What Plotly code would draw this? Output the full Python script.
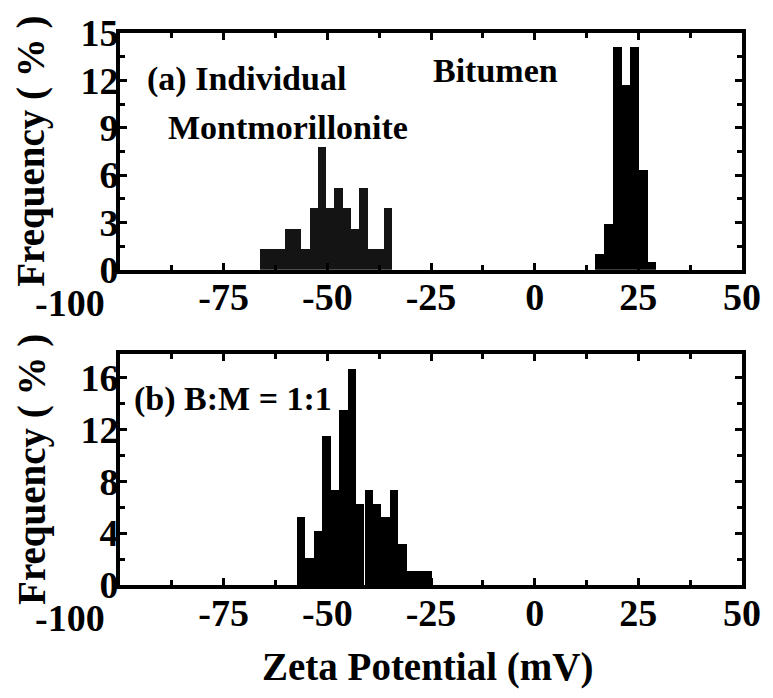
import plotly.graph_objects as go

# ---- data ----
mont_x = [-65.3, -63.3, -61.3, -59.3, -57.3, -55.3, -53.3, -51.3,
          -49.3, -47.3, -45.3, -43.3, -41.3, -39.3, -37.3, -35.3]
mont_y = [1.3, 1.3, 1.3, 2.6, 2.6, 1.3, 3.9, 7.8,
          3.9, 5.2, 3.9, 2.6, 5.2, 1.3, 1.3, 3.9]
mont_w = 2.0

bit_x = [15.7, 17.8, 19.9, 22.0, 24.1, 26.2, 28.3]
bit_y = [1.0, 2.9, 14.1, 11.7, 14.1, 6.3, 0.5]
bit_w = 2.1

mix_x = [-56.3, -54.3, -52.2, -50.2, -48.2, -46.1, -44.1, -42.1,
         -40.0, -38.0, -36.0, -33.9, -31.9, -29.9, -27.8, -25.8]
mix_y = [5.2, 2.08, 4.17, 11.46, 7.29, 13.5, 16.67, 6.25,
         7.29, 6.25, 5.2, 7.29, 3.13, 1.04, 1.04, 1.04]
mix_w = 2.03

x_ticks = [-75, -50, -25, 0, 25, 50]
x_ticktext = ["-75", "-50", "-25", "0", "25", "50"]
y1_ticks = [0, 3, 6, 9, 12, 15]
y2_ticks = [0, 4, 8, 12, 16]

FONT = "Liberation Serif"

fig = go.Figure()
fig.add_trace(go.Bar(x=mont_x, y=mont_y, width=mont_w, marker=dict(color="#141414", line=dict(width=0)),
                     xaxis="x", yaxis="y", showlegend=False))
fig.add_trace(go.Bar(x=bit_x, y=bit_y, width=bit_w, marker=dict(color="black", line=dict(width=0)),
                     xaxis="x", yaxis="y", showlegend=False))
fig.add_trace(go.Bar(x=mix_x, y=mix_y, width=mix_w, marker=dict(color="black", line=dict(width=0)),
                     xaxis="x2", yaxis="y2", showlegend=False))

tickfont = dict(family=FONT, size=38, color="black", weight="bold")
common_x = dict(range=[-100, 50], tickmode="array", tickvals=x_ticks, ticktext=x_ticktext,
                ticks="inside", ticklen=7, ticklabelstandoff=-9,
                tickwidth=3, tickcolor="black", showline=True, linewidth=4, linecolor="black",
                mirror="ticks", showgrid=False, zeroline=False, tickfont=tickfont,
                minor=dict(tickmode="linear", tick0=-100, dtick=12.5, ticks="inside", ticklen=5,
                           tickwidth=3, tickcolor="black"))
common_y = dict(ticks="inside", ticklen=7, tickwidth=3, tickcolor="black", showline=True,
                linewidth=4, linecolor="black", mirror="ticks", showgrid=False, zeroline=False,
                tickfont=tickfont, tickmode="array", ticklabelstandoff=-10)

fig.update_layout(
    width=773, height=698,
    margin=dict(l=120, r=22, t=29, b=113),
    paper_bgcolor="white", plot_bgcolor="white",
    bargap=0,
    xaxis=dict(common_x, domain=[0, 1], anchor="y"),
    yaxis=dict(common_y, range=[0, 15], tickvals=y1_ticks, domain=[0.571, 1], anchor="x",
               minor=dict(tickmode="linear", tick0=0, dtick=1.5, ticks="inside", ticklen=5,
                          tickwidth=3, tickcolor="black")),
    xaxis2=dict(common_x, domain=[0, 1], anchor="y2"),
    yaxis2=dict(common_y, range=[0, 17.8], tickvals=y2_ticks, domain=[0, 0.418], anchor="x2",
                minor=dict(tickmode="linear", tick0=0, dtick=2, ticks="inside", ticklen=5,
                           tickwidth=3, tickcolor="black")),
)

afont = dict(family=FONT, size=34, color="black", weight="bold")
anns = [
    dict(text="(a) Individual", x=-94, y=12.1, xref="x", yref="y", xanchor="left", yanchor="middle"),
    dict(text="Montmorillonite", x=-88.8, y=9.0, xref="x", yref="y", xanchor="left", yanchor="middle"),
    dict(text="Bitumen", x=-25, y=12.6, xref="x", yref="y", xanchor="left", yanchor="middle"),
    dict(text="(b) B:M = 1:1", x=-97.2, y=14.35, xref="x2", yref="y2", xanchor="left", yanchor="middle"),
]
for a in anns:
    fig.add_annotation(showarrow=False, font=afont, **a)

# "-100" tick labels (shifted left of axis as in the original)
for xr, yr in (("x", "y"), ("x2", "y2")):
    fig.add_annotation(text="-100", x=-100, y=0, xref=xr, yref=yr, xanchor="center", yanchor="top",
                       xshift=-50, yshift=-10, showarrow=False, font=tickfont)

tfont = dict(family=FONT, size=39, color="black", weight="bold")
for dom in ("y domain", "y2 domain"):
    fig.add_annotation(text="Frequency ( % )", x=-0.1426, y=0.5, xref="paper", yref=dom,
                       textangle=-90, xanchor="center", yanchor="middle", showarrow=False, font=tfont)
fig.add_annotation(text="Zeta Potential (mV)", x=0.494, y=-0.149, xref="paper", yref="paper",
                   xanchor="center", yanchor="middle", showarrow=False,
                   font=dict(family=FONT, size=39, color="black", weight="bold"))

fig.write_html("out.html")
